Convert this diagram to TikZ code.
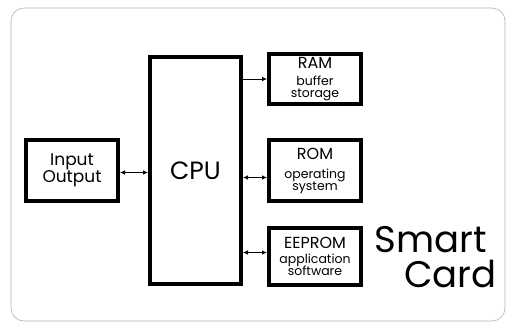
\documentclass[tikz,border=0pt]{standalone}
\usepackage{fontspec}
\setmainfont{Poppins}
\usetikzlibrary{arrows.meta}
\newcommand{\subtxt}{\fontsize{12.5}{10}\selectfont}
\begin{document}
\begin{tikzpicture}[x=1pt,y=-1pt,
  blk/.style={draw,line width=4pt,align=center,inner sep=0pt},
  link/.style={line width=0.7pt,-{Latex[length=5pt,width=4.5pt]}},
  both/.style={line width=0.7pt,{Latex[length=5pt,width=4.5pt]}-{Latex[length=5pt,width=4.5pt]}}]
\useasboundingbox (0,0) rectangle (507,325);
% card outline
\draw[gray!60,line width=0.6pt,rounded corners=13pt] (11,8) rectangle (505,321);
% blocks
\node[blk,minimum width=91pt,minimum height=227pt,font=\fontsize{25}{28}\selectfont] (cpu) at (195.5,170.5) {CPU};
\node[blk,minimum width=92pt,minimum height=61pt,font=\fontsize{17}{14}\selectfont] (io) at (72,170.5) {Input\\Output};
\node[blk,minimum width=92pt,minimum height=50pt,font=\fontsize{16}{12}\selectfont] (ram) at (315,79) {RAM\\[5pt]{\subtxt buffer}\\{\subtxt storage}};
\node[blk,minimum width=92pt,minimum height=61pt,font=\fontsize{16}{12}\selectfont] (rom) at (315,170.5) {ROM\\[7pt]{\subtxt operating}\\{\subtxt system}};
\node[blk,minimum width=92pt,minimum height=57pt,font=\fontsize{16}{12}\selectfont] (eeprom) at (315,256.5) {EEPROM\\[3pt]{\subtxt application}\\[-1pt]{\subtxt software}};
\node[anchor=base east,align=right,inner sep=0pt,font=\fontsize{37}{35}\selectfont] (smartcard) at (497,287) {Smart\hspace*{10pt}\\Card};
% connections
\coordinate (io-p) at ([yshift=-2pt]io.east);
\coordinate (rom-p) at ([yshift=-7pt]rom.west);
\coordinate (eeprom-p) at ([yshift=4pt]eeprom.west);
\draw[both] (io-p) -- (cpu.west |- io-p);
\draw[link] (cpu.east |- ram.west) -- (ram.west);
\draw[both] (cpu.east |- rom-p) -- (rom-p);
\draw[both] (cpu.east |- eeprom-p) -- (eeprom-p);
\end{tikzpicture}
\end{document}
